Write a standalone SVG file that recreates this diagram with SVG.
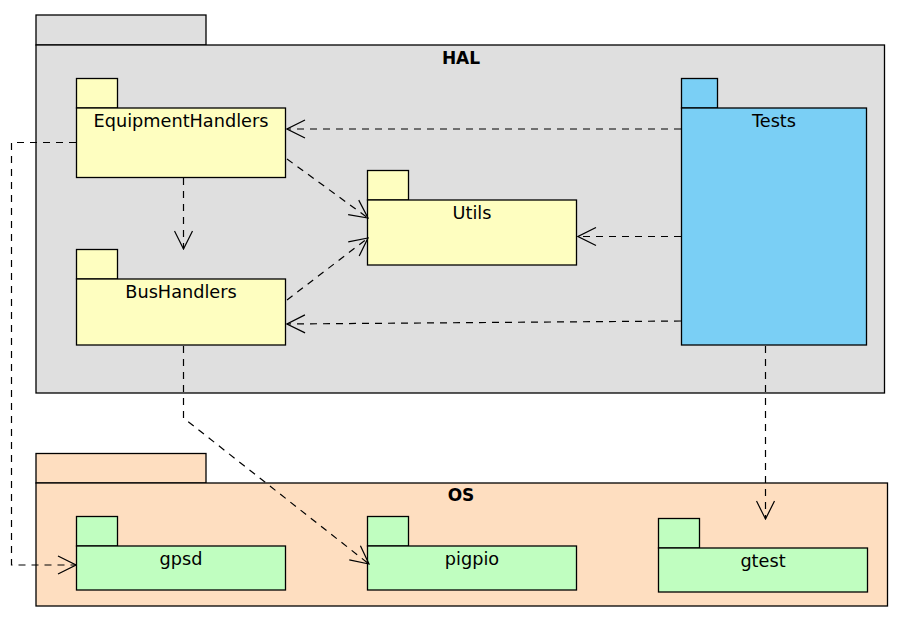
<svg xmlns="http://www.w3.org/2000/svg" width="903" height="624" viewBox="0 0 903 624">
<defs>
<style>
.box{stroke:#000;stroke-width:1.3}
.hal{fill:#dfdfdf}
.os{fill:#fedec0}
.yel{fill:#fefec0}
.blue{fill:#7acff5}
.green{fill:#c0fec0}
.lbl{font-family:"DejaVu Sans",sans-serif;font-size:17.7px;fill:#000;text-anchor:middle}
.b{font-weight:bold;font-size:17px}
.dep{fill:none;stroke:#000;stroke-width:1.2;stroke-dasharray:7,6}
.head{fill:none;stroke:#000;stroke-width:1.2}
</style>
<marker id="arr" viewBox="0 0 20 20" refX="19" refY="10" markerWidth="20" markerHeight="20" markerUnits="userSpaceOnUse" orient="auto">
<path d="M1,1 L19,10 L1,19" class="head"/>
</marker>
</defs>
<rect width="903" height="624" fill="#fff"/>
<g id="HAL">
<rect class="box hal" x="36" y="15" width="170" height="30"/>
<rect class="box hal" x="36" y="45" width="848.5" height="348"/>
<text class="lbl b" x="461" y="64">HAL</text>
</g>
<g id="OS">
<rect class="box os" x="36" y="453.5" width="170" height="29.5"/>
<rect class="box os" x="36" y="483" width="851.5" height="123"/>
<text class="lbl b" x="461" y="501">OS</text>
</g>
<g id="EquipmentHandlers">
<rect class="box yel" x="76.5" y="78.5" width="41" height="29.5"/>
<rect class="box yel" x="76.5" y="108" width="209" height="69.5"/>
<text class="lbl" x="181" y="127">EquipmentHandlers</text>
</g>
<g id="BusHandlers">
<rect class="box yel" x="76.5" y="249.5" width="41" height="29.5"/>
<rect class="box yel" x="76.5" y="279" width="209" height="66"/>
<text class="lbl" x="181" y="297.5">BusHandlers</text>
</g>
<g id="Utils">
<rect class="box yel" x="367.5" y="170.5" width="41" height="29.5"/>
<rect class="box yel" x="367.5" y="200" width="209" height="65"/>
<text class="lbl" x="472" y="219">Utils</text>
</g>
<g id="Tests">
<rect class="box blue" x="681.5" y="78.5" width="36" height="29.5"/>
<rect class="box blue" x="681.5" y="108" width="185" height="237"/>
<text class="lbl" x="774" y="127">Tests</text>
</g>
<g id="gpsd">
<rect class="box green" x="76.5" y="516.5" width="41" height="29.5"/>
<rect class="box green" x="76.5" y="546" width="209" height="44"/>
<text class="lbl" x="181" y="565">gpsd</text>
</g>
<g id="pigpio">
<rect class="box green" x="367.5" y="516.5" width="41" height="29.5"/>
<rect class="box green" x="367.5" y="546" width="209" height="44"/>
<text class="lbl" x="472" y="565">pigpio</text>
</g>
<g id="gtest">
<rect class="box green" x="658.5" y="518.5" width="41" height="29.5"/>
<rect class="box green" x="658.5" y="548" width="209" height="44"/>
<text class="lbl" x="763" y="567">gtest</text>
</g>
<g id="connectors">
<path class="dep" d="M681,129 L287,129" marker-end="url(#arr)"/>
<path class="dep" d="M287,159 L368,218" marker-end="url(#arr)"/>
<path class="dep" d="M183.5,178 L183.5,249" marker-end="url(#arr)"/>
<path class="dep" d="M287,300 L368,238" marker-end="url(#arr)"/>
<path class="dep" d="M681,321 L287,324" marker-end="url(#arr)"/>
<path class="dep" d="M681,236.5 L578,236.5" marker-end="url(#arr)"/>
<path class="dep" d="M765.5,346 L765.5,519" marker-end="url(#arr)"/>
<path class="dep" d="M76,142.5 L11.5,142.5 L11.5,565 L76,565" marker-end="url(#arr)"/>
<path class="dep" d="M183.5,346 L183.5,418 L369,564" marker-end="url(#arr)"/>
</g>
</svg>
